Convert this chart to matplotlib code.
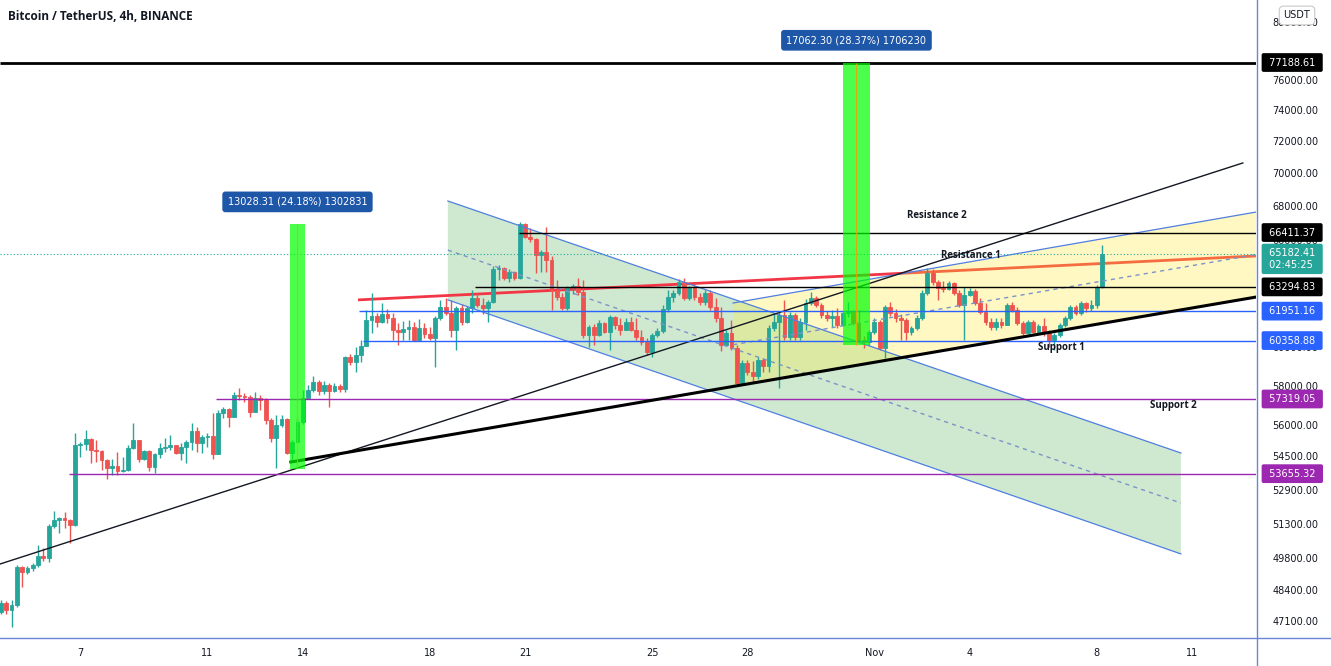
import numpy as np
import pandas as pd
import matplotlib
matplotlib.use("Agg")
import matplotlib.pyplot as plt
import matplotlib.transforms as mtransforms
from matplotlib.patches import Polygon, Rectangle
from matplotlib.lines import Line2D
from matplotlib.ticker import NullLocator, FixedLocator

plt.rcParams['font.family'] = ['DejaVu Sans']

# BTCUSDT 4h candles, first one opens 2021-10-04 12:00 (open = previous close)
start = "2021-10-04 12:00"
first_open = 47480
closes = [
    47857, 47561, 47770, 49405, 49187, 49360, 49490, 49885, 49797, 51225,
    51500, 51592, 51500, 51270, 55035, 55084, 55330, 54790, 54742, 54310,
    53924, 54018, 53783, 53830, 54888, 55280, 54358, 54742, 53971, 54598,
    54888, 54937, 55035, 54646, 54937, 55182, 55718, 55133, 55427, 55476,
    54598, 56616, 56815, 56418, 57524, 57473, 57422, 56666, 57371, 57270,
    56270, 55378, 56020, 56320, 54646, 55182, 56170, 57371, 57778, 58195,
    57727, 58040, 57727, 57987, 57829, 59494, 59237, 59597, 60073, 61480,
    61692, 61373, 61800, 61586, 60924, 60820, 60980, 61090, 60400, 61036,
    60715, 60505, 61586, 62180, 61852, 60924, 62120, 61373, 62120, 62680,
    62290, 62120, 62460, 64300, 64360, 63800, 64130, 63800, 66925, 66170,
    66050, 65110, 65280, 64830, 63119, 62735, 62120, 63290, 63345, 63010,
    60660, 61090, 60660, 61320, 60820, 61640, 61200, 60924, 61373, 60924,
    60557, 60295, 59753, 60660, 60870, 62065, 62735, 62953, 63580, 62680,
    63230, 62735, 62460, 62953, 62180, 61586, 60130, 60767, 59960, 58145,
    59185, 58706, 58500, 59340, 59030, 61036, 61373, 61746, 60557, 61746,
    60557, 61373, 62400, 62680, 62290, 61746, 61586, 61692, 61200, 61852,
    61906, 61320, 60400, 60295, 60820, 61373, 59960, 62180, 61852, 61586,
    61480, 60820, 61036, 61586, 62953, 64080, 63580, 63230, 63175, 63520,
    62953, 62290, 62845, 63065, 62400, 61906, 61373, 61090, 61373, 61200,
    62290, 62012, 61320, 60767, 61373, 60820, 61145, 60767, 60400, 60660,
    61200, 61586, 62180, 61852, 62400, 62120, 62290, 63290, 65182.41,
]
highs = [
    47983, 47940, 47983, 49490, 49450, 49450, 49580, 50375, 50240, 51315,
    51914, 51638, 51868, 51546, 55620, 55182, 55768, 55378, 55280, 54790,
    54358, 54358, 54694, 54454, 55035, 56120, 55280, 54790, 54790, 54646,
    55133, 55378, 55525, 55035, 55133, 55280, 56120, 55918, 55525, 55620,
    56616, 56765, 56916, 56866, 57676, 57880, 57625, 57524, 57676, 57524,
    57371, 56370, 56517, 56517, 56370, 55280, 56370, 57778, 58040, 58500,
    58300, 58250, 58145, 58145, 58092, 59545, 59650, 60020, 60400, 62012,
    62953, 61852, 62400, 62065, 61852, 61320, 61426, 61480, 61373, 61533,
    61320, 61090, 61692, 62570, 62680, 62570, 62235, 62345, 62235, 63119,
    62953, 62680, 62570, 64475, 64530, 64420, 64300, 64190, 67050, 66990,
    66690, 66110, 65389, 66750, 65055, 63690, 62953, 63345, 63460, 63800,
    63690, 61200, 61250, 61480, 61373, 61746, 61692, 61586, 61586, 61640,
    61586, 60924, 60505, 60767, 61036, 62290, 63119, 63119, 63745, 63800,
    63345, 63460, 62953, 63119, 63119, 62680, 62180, 60924, 61480, 60130,
    59340, 59340, 59290, 59494, 59450, 61200, 61852, 61906, 62570, 61906,
    61852, 61586, 62625, 63010, 62790, 62400, 61960, 62012, 62120, 61960,
    62460, 62012, 62012, 60610, 60924, 61586, 61480, 62290, 62460, 62065,
    61800, 61586, 61145, 61746, 63119, 64360, 64300, 63690, 63635, 63635,
    63580, 63119, 63290, 63230, 63180, 62680, 62400, 61586, 61586, 61586,
    62400, 62460, 62180, 61426, 61480, 61480, 61250, 61586, 60924, 60767,
    61320, 61692, 62290, 62290, 62515, 62460, 62570, 63400, 65690,
]
lows = [
    47393, 47393, 46850, 47686, 48540, 49100, 49230, 49405, 49666, 49622,
    51136, 50912, 51136, 50466, 51225, 54454, 54790, 54166, 54214, 53830,
    53407, 53595, 53595, 53736, 53783, 54839, 54214, 54310, 53783, 53689,
    54406, 54694, 54790, 54598, 54310, 54166, 54790, 54694, 54646, 54937,
    54358, 54598, 56370, 55918, 56418, 57270, 57168, 56418, 56666, 56765,
    56070, 55182, 53924, 55918, 54598, 54214, 55182, 56070, 57320, 57676,
    57524, 57575, 56916, 57676, 57676, 57676, 59082, 58706, 59237, 60073,
    60767, 61090, 61300, 61320, 60400, 60130, 60400, 60400, 60347, 60347,
    60505, 60400, 58964, 61480, 61746, 60557, 59856, 61215, 61320, 61852,
    62180, 61800, 61373, 62400, 63690, 63690, 63580, 63690, 63745, 66110,
    65870, 64080, 64130, 64130, 62012, 62570, 62012, 62012, 62900, 62845,
    60505, 60020, 60130, 60600, 60767, 59856, 60980, 60660, 60924, 60870,
    60400, 60130, 59597, 59494, 60557, 60767, 61906, 62460, 62845, 62570,
    62570, 62570, 62290, 62290, 62012, 61373, 59805, 60130, 59856, 58040,
    58092, 58550, 58195, 58350, 58706, 58706, 60870, 57880, 60400, 60400,
    60400, 60400, 60924, 62290, 62180, 61586, 61426, 61090, 61036, 61145,
    61640, 61200, 60295, 59960, 60130, 60715, 59856, 59440, 61692, 61373,
    60400, 60400, 60660, 60924, 61480, 62845, 63400, 62570, 63010, 63119,
    62845, 62180, 60400, 62790, 62290, 61800, 61200, 60924, 60924, 61036,
    61200, 61906, 61200, 60660, 60715, 60767, 60767, 60610, 60020, 59856,
    60557, 61090, 61480, 61746, 61746, 61906, 61960, 62120, 63230,
]

# horizontal levels
levels = [77188.61, 66411.37, 63294.83, 61951.16, 60358.88, 57319.05, 53655.32]
level_start = [4.47, 20.81, 19.42, 15.77, 15.90, 11.27, 6.64]
level_colors = ['#000000', '#000000', '#000000', '#2962ff', '#2962ff', '#9c27b0', '#9c27b0']
level_widths = [2.0, 1.0, 1.0, 1.0, 1.0, 1.0, 1.0]
countdown = "02:45:25"

# drawings: (day, price); day = day of Oct 2021, Nov 1 = 32
long_trend = [(4.47, 49535), (43.60, 70627)]
support_trend = [(13.63, 54212), (44.02, 62729)]
resist_line = [(15.74, 62570), (44.02, 65050)]
down_top = [(18.57, 68290), (41.65, 54646)]
down_mid = [(18.57, 65389), (41.65, 52282)]
down_bot = [(18.57, 62570), (41.65, 49980)]
up_top = [(27.55, 62398), (44.02, 67627)]
up_mid = [(27.55, 60136), (44.02, 65130)]
up_bot = [(27.55, 57960), (44.02, 62729)]

# measure boxes: day from, day to, low, high, label
measures = [
    (13.60, 14.07, 53880.00, 66908.31, "13028.31 (24.18%) 1302831"),
    (31.01, 31.86, 60126.31, 77188.61, "17062.30 (28.37%) 1706230"),
]
notes = [("Resistance 2", 33.97, 67390), ("Resistance 1", 35.04, 65050),
         ("Support 1", 37.90, 60015), ("Support 2", 41.40, 57015)]

yticks = [47100, 48400, 49800, 51300, 52900, 54500, 56000, 58000, 60000,
          66000, 68000, 70000, 72000, 74000, 76000, 80000]
xtick_days = [7, 11, 14, 18, 21, 25, 28, 32, 35, 39, 42]
xtick_labels = ['7', '11', '14', '18', '21', '25', '28', 'Nov', '4', '8', '11']

UP, DOWN, TXT = '#26a69a', '#ef5350', '#131722'

W, H = 1331, 666
fig = plt.figure(figsize=(W / 100, H / 100), dpi=100)
ax = fig.add_axes([0, 28 / H, 1256 / W, 638 / H])
ax.set_yscale('log')
ax.set_xlim(4.4685, 44.015)
ax.set_ylim(46397, 81577)

# candles
t = pd.date_range(start, periods=len(closes), freq="4h")
x = ((t - pd.Timestamp("2021-09-30")) / pd.Timedelta(days=1)).to_numpy()
c = np.array(closes, float)
o = np.concatenate([[first_open], c[:-1]])
h = np.array(highs, float)
l = np.array(lows, float)
col = np.where(c >= o, UP, DOWN)
ax.vlines(x, l, h, colors=col, lw=1, zorder=3)
lo = np.minimum(o, c)
ax.bar(x, np.maximum(o, c) - lo, bottom=lo, width=0.12, color=col,
       edgecolor=col, linewidth=0.6, zorder=3.1)

# channels
def line(pts, **kw):
    ax.plot([p[0] for p in pts], [p[1] for p in pts], **kw)

ax.add_patch(Polygon([down_top[0], down_top[1], down_bot[1], down_bot[0]],
                     closed=True, fc='#4caf50', alpha=0.27, ec='none', zorder=1))
line(resist_line, color='#f23645', lw=2, zorder=1.5, solid_capstyle='butt')
ax.add_patch(Polygon([up_top[0], up_top[1], up_bot[1], up_bot[0]],
                     closed=True, fc='#ffeb3b', alpha=0.3, ec='none', zorder=2))
for seg in (down_top, down_bot, up_top, up_bot):
    line(seg, color='#4f7fe0', lw=0.9, zorder=4)
for seg in (down_mid, up_mid):
    line(seg, color='#7a94c9', lw=1, dashes=(3, 3), zorder=4)
line(long_trend, color=TXT, lw=1, zorder=4)
line(support_trend, color='#000000', lw=2.2, zorder=4.2)

# levels
for p, s, cl, lw in zip(levels, level_start, level_colors, level_widths):
    ax.hlines(p, s, 44.02, colors=cl, lw=lw, zorder=4)
ax.axhline(closes[-1], color=UP, lw=0.8, ls=(0, (1, 2)), zorder=4)

# measure rectangles
for d0, d1, pl, ph, txt in measures:
    ax.add_patch(Rectangle((d0, pl), d1 - d0, ph - pl, fc='#00ff00', alpha=0.7,
                           ec='none', zorder=5))
    ax.vlines((d0 + d1) / 2, pl, ph, colors='#ff9800', lw=0.8, alpha=0.8, zorder=5.1)
    ax.annotate(txt, xy=((d0 + d1) / 2, ph), xytext=(0, 16), textcoords='offset points',
                ha='center', va='center', fontsize=7, color='white', zorder=6,
                bbox=dict(boxstyle='round,pad=0.55,rounding_size=0.3', fc='#1f57a8', ec='none'))

for txt, d, p in notes:
    ax.text(d, p, txt, ha='center', va='center', fontsize=7, fontweight='bold',
            family=['Open Sans', 'DejaVu Sans'], color=TXT, zorder=6)

# axes styling
for sp in ax.spines.values():
    sp.set_visible(False)
ax.yaxis.tick_right()
ax.yaxis.set_major_locator(FixedLocator(yticks))
ax.yaxis.set_minor_locator(NullLocator())
ax.set_yticklabels([f"{v:.2f}" for v in yticks])
ax.set_xticks(xtick_days)
ax.set_xticklabels(xtick_labels)
ax.tick_params(axis='y', length=0, pad=12, labelsize=7, labelcolor=TXT)
ax.tick_params(axis='x', length=0, pad=7, labelsize=7, labelcolor=TXT)

trans = mtransforms.blended_transform_factory(ax.transAxes, ax.transData)
bx = 1 + 10 / 1256
for p, cl in zip(levels, level_colors):
    ax.text(bx, p, f" {p:.2f} ", transform=trans, ha='left', va='center', fontsize=7,
            color='white', clip_on=False, zorder=20,
            bbox=dict(boxstyle='round,pad=0.45,rounding_size=0.2', fc=cl, ec='none'))
ax.annotate(f" {closes[-1]:.2f} \n {countdown} ", xy=(bx, closes[-1]), xycoords=trans,
            xytext=(0, 4), textcoords='offset points', ha='left', va='top',
            fontsize=7, color='white', linespacing=1.2, annotation_clip=False, zorder=20,
            bbox=dict(boxstyle='round,pad=0.45,rounding_size=0.2', fc=UP, ec='none'))

fig.text(1297 / W, 1 - 15.5 / H, "USDT", ha='center', va='center', fontsize=7, color=TXT,
         bbox=dict(boxstyle='round,pad=0.45', fc='white', ec='#c8c8c8', lw=0.8))
fig.text(8 / W, 1 - 16 / H, "Bitcoin / TetherUS, 4h, BINANCE", ha='left', va='center',
         fontsize=8.5, fontweight='bold', family=['Open Sans', 'DejaVu Sans'], color=TXT)
fig.add_artist(Line2D([0, 1], [28.5 / H, 28.5 / H], transform=fig.transFigure,
                      color='#6c85d8', lw=1))
fig.add_artist(Line2D([1256.5 / W, 1256.5 / W], [0, 1], transform=fig.transFigure,
                      color='#6c85d8', lw=1))

fig.savefig("out.png", dpi=100, facecolor='white')
